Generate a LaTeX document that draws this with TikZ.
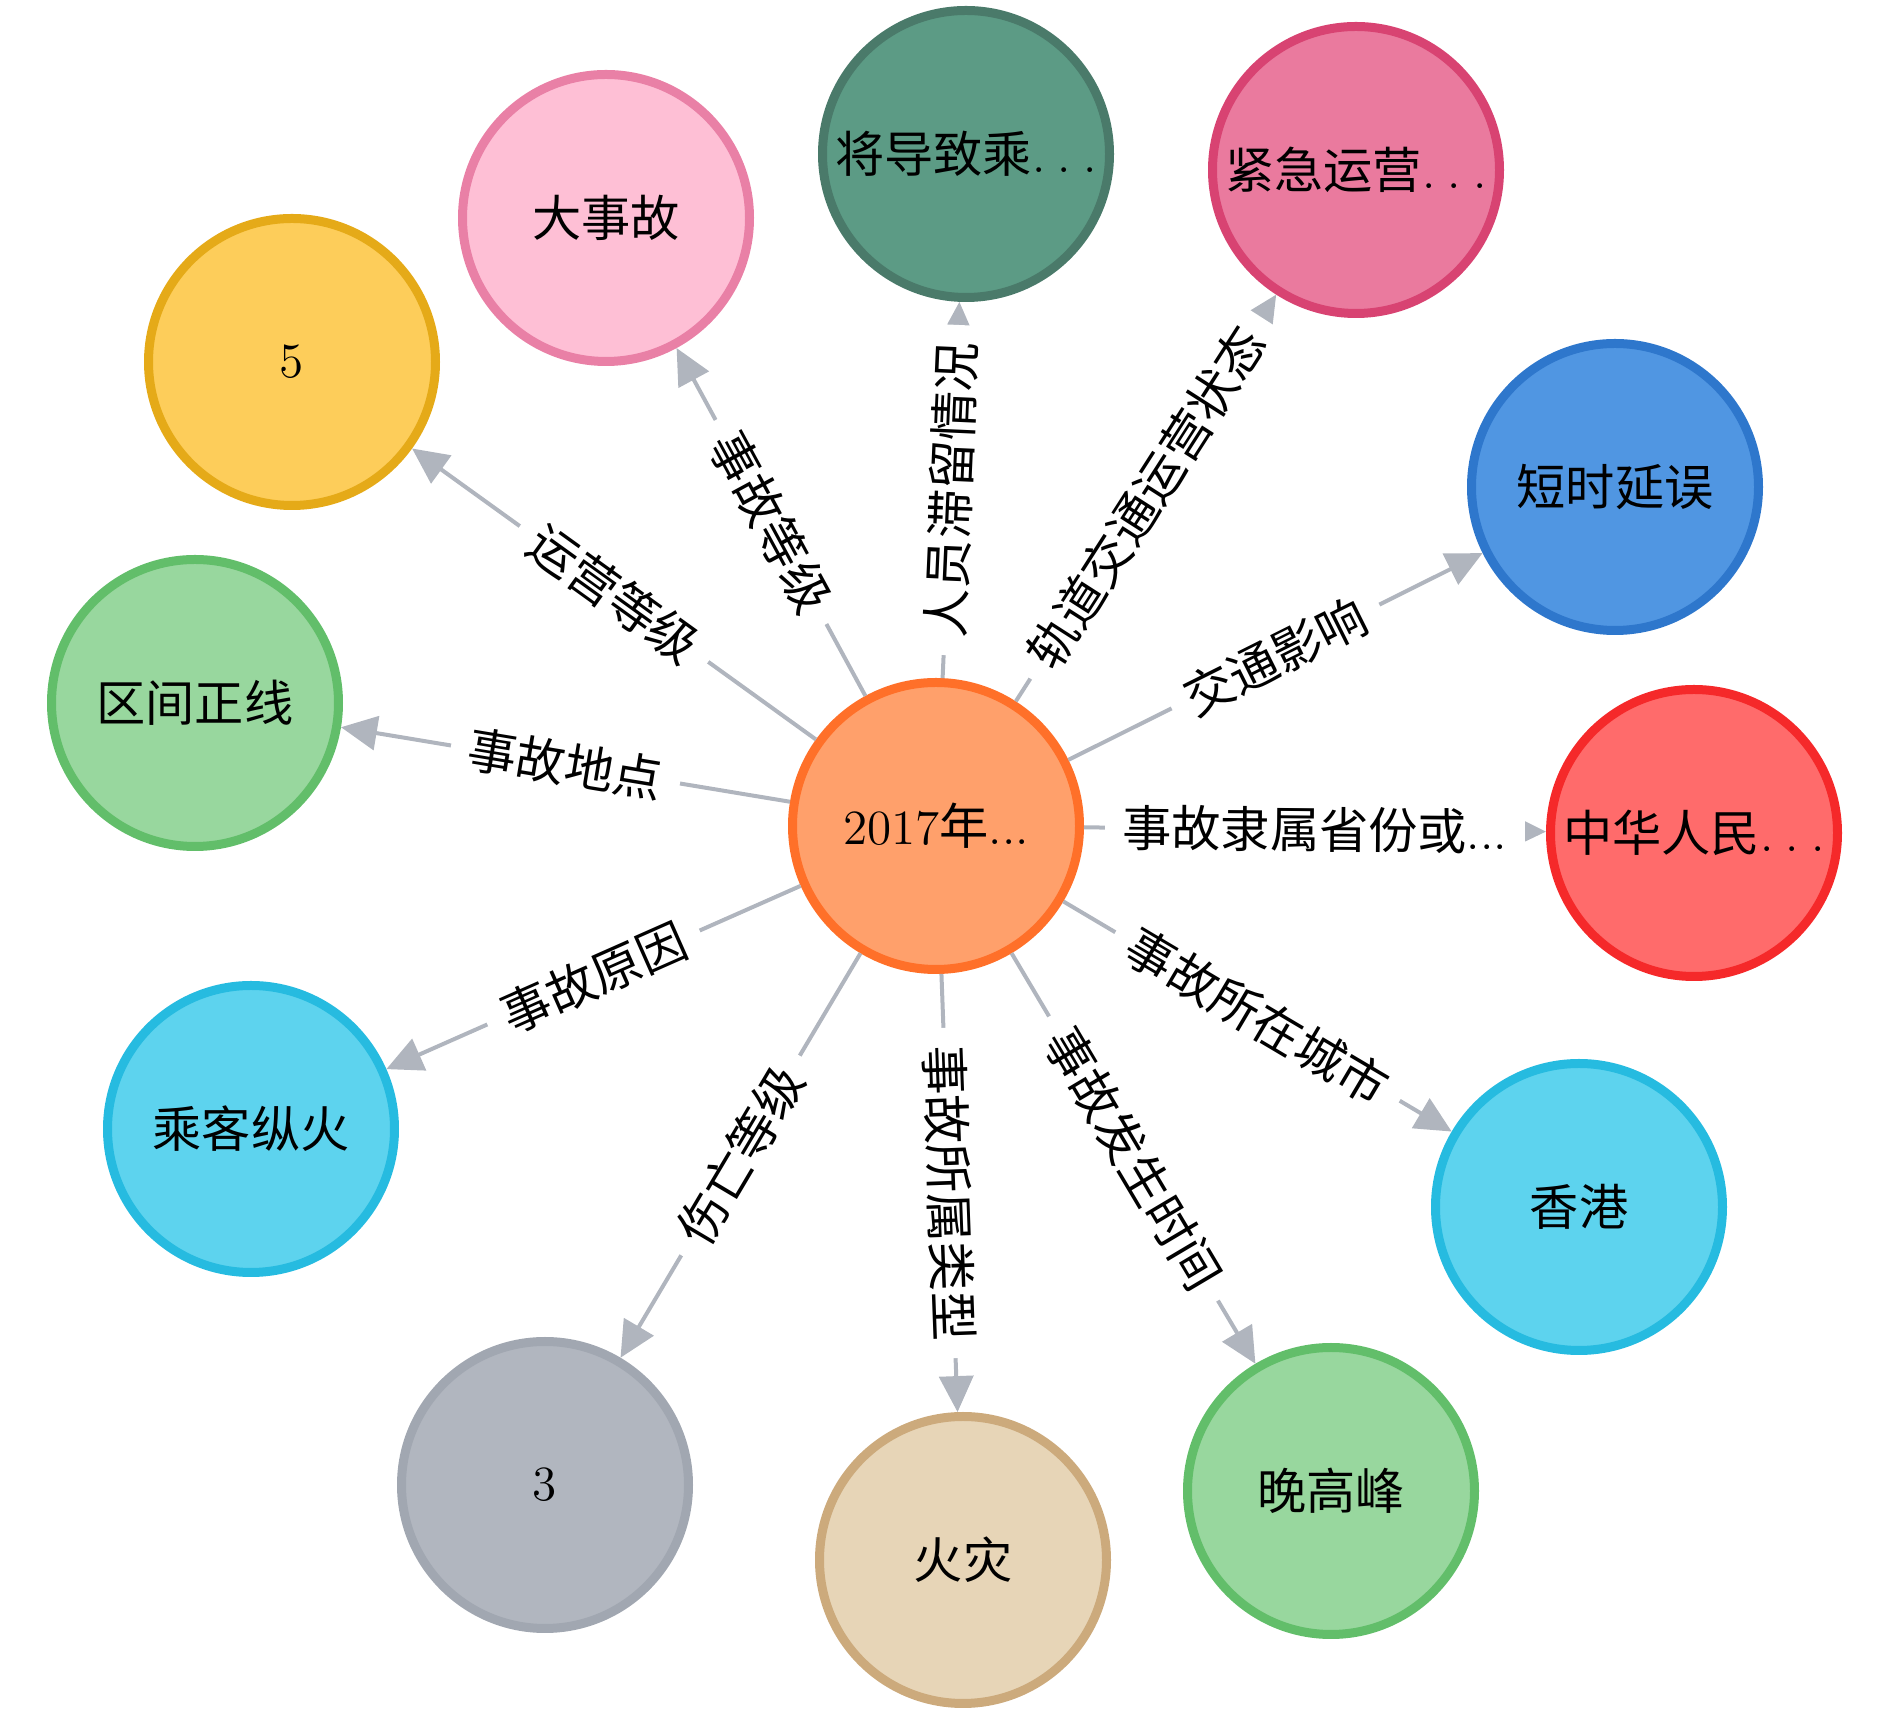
\documentclass[tikz,border=0pt]{standalone}
\usepackage{fontspec}
\newfontfamily\cjk{Noto Sans CJK SC}
\usetikzlibrary{arrows.meta}

\definecolor{relgray}{HTML}{B0B5BE}
\definecolor{evfill}{HTML}{FFA06B}\definecolor{evdraw}{HTML}{FF7029}
\definecolor{yelfill}{HTML}{FDCD5A}\definecolor{yeldraw}{HTML}{E5AA18}
\definecolor{pinkfill}{HTML}{FEBFD5}\definecolor{pinkdraw}{HTML}{E980A6}
\definecolor{tealfill}{HTML}{5C9B85}\definecolor{tealdraw}{HTML}{4A7A6A}
\definecolor{rosefill}{HTML}{EA7A9E}\definecolor{rosedraw}{HTML}{D84372}
\definecolor{bluefill}{HTML}{5096E2}\definecolor{bluedraw}{HTML}{2E77CC}
\definecolor{redfill}{HTML}{FF6B6B}\definecolor{reddraw}{HTML}{F5292A}
\definecolor{cyanfill}{HTML}{5DD3EE}\definecolor{cyandraw}{HTML}{26BBE0}
\definecolor{greenfill}{HTML}{98D79E}\definecolor{greendraw}{HTML}{62BE6A}
\definecolor{tanfill}{HTML}{E7D5B7}\definecolor{tandraw}{HTML}{CCAA7C}
\definecolor{greyfill}{HTML}{B1B6BF}\definecolor{greydraw}{HTML}{A1A7B1}

\newcommand{\cut}{.\kern0.25em.\kern0.25em.}

\begin{document}
\begin{tikzpicture}
    \tikzstyle{ent}=[circle, line width=0.09cm, minimum size=2.87cm, inner sep=0pt, font=\fontsize{14}{17}\selectfont]
    \tikzstyle{rel}=[draw=relgray, line width=0.04cm, -{Triangle[length=0.36cm, width=0.34cm]}, relgray]
    \tikzstyle{lbl}=[sloped, fill=white, text=black, inner xsep=5pt, inner ysep=1pt, font=\fontsize{14}{17}\selectfont\cjk]

    \useasboundingbox (0, 0) rectangle (18.9, -17.13);

    \node[ent, fill=evfill, draw=evdraw] (event) at (9.36, -8.26) {\raisebox{-0.12cm}{2017{\cjk 年}...}};
    \node[ent, fill=yelfill, draw=yeldraw] (oplevel) at (2.92, -3.62) {5};
    \node[ent, fill=pinkfill, draw=pinkdraw] (acclevel) at (6.06, -2.18) {\cjk 大事故};
    \node[ent, fill=tealfill, draw=tealdraw] (stay) at (9.66, -1.54) {{\cjk 将导致乘}\cut};
    \node[ent, fill=rosefill, draw=rosedraw] (state) at (13.56, -1.70) {{\cjk 紧急运营}\cut};
    \node[ent, fill=bluefill, draw=bluedraw] (impact) at (16.15, -4.87) {\cjk 短时延误};
    \node[ent, fill=redfill, draw=reddraw] (prov) at (16.94, -8.33) {{\cjk 中华人民}\cut};
    \node[ent, fill=cyanfill, draw=cyandraw] (city) at (15.79, -12.07) {\cjk 香港};
    \node[ent, fill=greenfill, draw=greendraw] (time) at (13.31, -14.91) {\cjk 晚高峰};
    \node[ent, fill=tanfill, draw=tandraw] (type) at (9.63, -15.60) {\cjk 火灾};
    \node[ent, fill=greyfill, draw=greydraw] (injury) at (5.45, -14.85) {3};
    \node[ent, fill=cyanfill, draw=cyandraw] (cause) at (2.51, -11.29) {\cjk 乘客纵火};
    \node[ent, fill=greenfill, draw=greendraw] (place) at (1.95, -7.03) {\cjk 区间正线};

    \draw[rel] (event) -- node[lbl] {运营等级} (oplevel);
    \draw[rel] (event) -- node[lbl] {事故等级} (acclevel);
    \draw[rel] (event) -- node[lbl] {人员滞留情况} (stay);
    \draw[rel] (event) -- node[lbl] {轨道交通运营状态} (state);
    \draw[rel] (event) -- node[lbl] {交通影响} (impact);
    \draw[rel] (event) -- node[lbl] {事故隶属省份或{\normalfont...}} (prov);
    \draw[rel] (event) -- node[lbl] {事故所在城市} (city);
    \draw[rel] (event) -- node[lbl] {事故发生时间} (time);
    \draw[rel] (event) -- node[lbl] {事故所属类型} (type);
    \draw[rel] (event) -- node[lbl] {伤亡等级} (injury);
    \draw[rel] (event) -- node[lbl] {事故原因} (cause);
    \draw[rel] (event) -- node[lbl] {事故地点} (place);
\end{tikzpicture}
\end{document}
